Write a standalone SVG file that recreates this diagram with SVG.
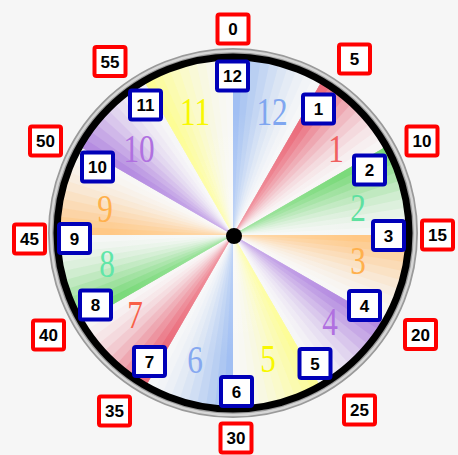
<svg xmlns="http://www.w3.org/2000/svg" xmlns:xlink="http://www.w3.org/1999/xlink" width="458" height="455" viewBox="0 0 458 455">
<style>
.w{fill:currentColor;stroke:none}
.rb rect{fill:#fff;stroke:#ff0000;stroke-width:4}
.bb rect{fill:#fff;stroke:#0000b8;stroke-width:4}
.lab{font-family:"Liberation Sans",Arial,sans-serif;font-weight:bold;font-size:17px;fill:#000;text-anchor:middle}
.num{font-family:"Liberation Serif","Times New Roman",serif;font-size:40px;text-anchor:middle}
</style>
<defs>
<g id="fan">
<path class="w" fill-opacity="0.02" d="M0 0V-176A176 176 0 0 1 88 -152.42Z"/>
<path class="w" fill-opacity="0.0408" d="M0 0V-176A176 176 0 0 1 79.9 -156.82Z"/>
<path class="w" fill-opacity="0.0638" d="M0 0V-176A176 176 0 0 1 71.59 -160.78Z"/>
<path class="w" fill-opacity="0.0909" d="M0 0V-176A176 176 0 0 1 63.07 -164.31Z"/>
<path class="w" fill-opacity="0.125" d="M0 0V-176A176 176 0 0 1 54.39 -167.39Z"/>
<path class="w" fill-opacity="0.1714" d="M0 0V-176A176 176 0 0 1 45.55 -170Z"/>
<path class="w" fill-opacity="0.2241" d="M0 0V-176A176 176 0 0 1 36.59 -172.15Z"/>
<path class="w" fill-opacity="0.2889" d="M0 0V-176A176 176 0 0 1 27.53 -173.83Z"/>
<path class="w" fill-opacity="0.4375" d="M0 0V-176A176 176 0 0 1 18.4 -175.04Z"/>
<path class="w" fill-opacity="0.7222" d="M0 0V-176A176 176 0 0 1 9.21 -175.76Z"/>
</g>
<radialGradient id="glow" cx="233" cy="235" r="176" gradientUnits="userSpaceOnUse">
<stop offset="0" stop-color="#fff" stop-opacity="0.35"/>
<stop offset="0.7" stop-color="#fff" stop-opacity="0"/>
</radialGradient>
</defs>
<rect width="458" height="455" fill="#f6f6f6"/>
<g id="face">
<circle cx="233" cy="233" r="176" fill="#f8f8f8"/>
<use xlink:href="#fan" transform="translate(233 235) rotate(0)" color="#9dbdf2"/>
<use xlink:href="#fan" transform="translate(233 235) rotate(30)" color="#ea6677"/>
<use xlink:href="#fan" transform="translate(233 235) rotate(60)" color="#74d874"/>
<use xlink:href="#fan" transform="translate(233 235) rotate(90)" color="#ffc680"/>
<use xlink:href="#fan" transform="translate(233 235) rotate(120)" color="#b286e0"/>
<use xlink:href="#fan" transform="translate(233 235) rotate(150)" color="#fdfd90"/>
<use xlink:href="#fan" transform="translate(233 235) rotate(180)" color="#9dbdf2"/>
<use xlink:href="#fan" transform="translate(233 235) rotate(210)" color="#ea6677"/>
<use xlink:href="#fan" transform="translate(233 235) rotate(240)" color="#74d874"/>
<use xlink:href="#fan" transform="translate(233 235) rotate(270)" color="#ffc680"/>
<use xlink:href="#fan" transform="translate(233 235) rotate(300)" color="#b286e0"/>
<use xlink:href="#fan" transform="translate(233 235) rotate(330)" color="#fdfd90"/>
<circle cx="233" cy="235" r="176" fill="url(#glow)"/>
</g>
<g id="ring" fill="none">
<circle cx="233" cy="233" r="182" stroke="#9a9a9a" stroke-width="6"/>
<circle cx="233" cy="233" r="182" stroke="#d6d6d6" stroke-width="2.5"/>
<circle cx="233" cy="233" r="176" stroke="#000" stroke-width="7"/>
</g>
<g id="numerals">
<text class="num" fill="#7fa6f0" transform="translate(272 125) scale(0.78 1)">12</text>
<text class="num" fill="#f06060" transform="translate(336 162) scale(0.78 1)">1</text>
<text class="num" fill="#5ee0a0" transform="translate(358 221) scale(0.78 1)">2</text>
<text class="num" fill="#ffb04c" transform="translate(358 274) scale(0.78 1)">3</text>
<text class="num" fill="#b070e0" transform="translate(330 335) scale(0.78 1)">4</text>
<text class="num" fill="#f8f800" transform="translate(268 372) scale(0.78 1)">5</text>
<text class="num" fill="#86a8f0" transform="translate(195 373) scale(0.78 1)">6</text>
<text class="num" fill="#f86048" transform="translate(135 328) scale(0.78 1)">7</text>
<text class="num" fill="#60e6a8" transform="translate(107 277) scale(0.78 1)">8</text>
<text class="num" fill="#ffb04c" transform="translate(105 222) scale(0.78 1)">9</text>
<text class="num" fill="#b070e0" transform="translate(139 162) scale(0.78 1)">10</text>
<text class="num" fill="#f8f800" transform="translate(195 125) scale(0.78 1)">11</text>
</g>
<circle id="hub" cx="234" cy="236" r="8" fill="#000"/>
<g id="hours" class="bb">
<g id="h12" transform="translate(232.5 76)"><rect x="-15.5" y="-14.5" width="31" height="29" rx="2"/><text class="lab" y="6">12</text></g>
<g id="h1" transform="translate(318.5 109)"><rect x="-15.5" y="-14.5" width="31" height="29" rx="2"/><text class="lab" y="6">1</text></g>
<g id="h2" transform="translate(369.5 170)"><rect x="-15.5" y="-14.5" width="31" height="29" rx="2"/><text class="lab" y="6">2</text></g>
<g id="h3" transform="translate(388.5 235.5)"><rect x="-15.5" y="-14.5" width="31" height="29" rx="2"/><text class="lab" y="6">3</text></g>
<g id="h4" transform="translate(364.5 305.5)"><rect x="-15.5" y="-14.5" width="31" height="29" rx="2"/><text class="lab" y="6">4</text></g>
<g id="h5" transform="translate(315 363.5)"><rect x="-15.5" y="-14.5" width="31" height="29" rx="2"/><text class="lab" y="6">5</text></g>
<g id="h6" transform="translate(236.5 391.5)"><rect x="-15.5" y="-14.5" width="31" height="29" rx="2"/><text class="lab" y="6">6</text></g>
<g id="h7" transform="translate(149.5 361.5)"><rect x="-15.5" y="-14.5" width="31" height="29" rx="2"/><text class="lab" y="6">7</text></g>
<g id="h8" transform="translate(95.5 305)"><rect x="-15.5" y="-14.5" width="31" height="29" rx="2"/><text class="lab" y="6">8</text></g>
<g id="h9" transform="translate(74.5 238.5)"><rect x="-15.5" y="-14.5" width="31" height="29" rx="2"/><text class="lab" y="6">9</text></g>
<g id="h10" transform="translate(97.5 167)"><rect x="-15.5" y="-14.5" width="31" height="29" rx="2"/><text class="lab" y="6">10</text></g>
<g id="h11" transform="translate(145.5 105)"><rect x="-15.5" y="-14.5" width="31" height="29" rx="2"/><text class="lab" y="6">11</text></g>
</g>
<g id="minutes" class="rb">
<g id="m0" transform="translate(233 29)"><rect x="-15.5" y="-14.5" width="31" height="29" rx="2"/><text class="lab" y="6">0</text></g>
<g id="m5" transform="translate(354.5 59)"><rect x="-15.5" y="-14.5" width="31" height="29" rx="2"/><text class="lab" y="6">5</text></g>
<g id="m10" transform="translate(422 141)"><rect x="-15.5" y="-14.5" width="31" height="29" rx="2"/><text class="lab" y="6">10</text></g>
<g id="m15" transform="translate(437.5 235)"><rect x="-15.5" y="-14.5" width="31" height="29" rx="2"/><text class="lab" y="6">15</text></g>
<g id="m20" transform="translate(420.5 334.5)"><rect x="-15.5" y="-14.5" width="31" height="29" rx="2"/><text class="lab" y="6">20</text></g>
<g id="m25" transform="translate(359.5 410)"><rect x="-15.5" y="-14.5" width="31" height="29" rx="2"/><text class="lab" y="6">25</text></g>
<g id="m30" transform="translate(236 438)"><rect x="-15.5" y="-14.5" width="31" height="29" rx="2"/><text class="lab" y="6">30</text></g>
<g id="m35" transform="translate(114.5 411)"><rect x="-15.5" y="-14.5" width="31" height="29" rx="2"/><text class="lab" y="6">35</text></g>
<g id="m40" transform="translate(48.5 335)"><rect x="-15.5" y="-14.5" width="31" height="29" rx="2"/><text class="lab" y="6">40</text></g>
<g id="m45" transform="translate(29.5 239)"><rect x="-15.5" y="-14.5" width="31" height="29" rx="2"/><text class="lab" y="6">45</text></g>
<g id="m50" transform="translate(45.5 141)"><rect x="-15.5" y="-14.5" width="31" height="29" rx="2"/><text class="lab" y="6">50</text></g>
<g id="m55" transform="translate(110 61.5)"><rect x="-15.5" y="-14.5" width="31" height="29" rx="2"/><text class="lab" y="6">55</text></g>
</g>
</svg>
